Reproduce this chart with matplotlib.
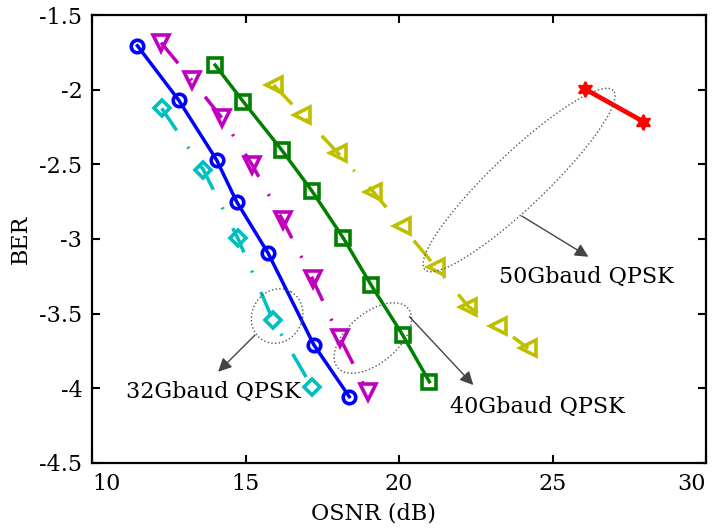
import numpy as np
import matplotlib
matplotlib.use("Agg")
import matplotlib.pyplot as plt

# ---------------- data ----------------
osnr_blue = [11.48, 12.82, 14.06, 14.71, 15.74, 17.23, 18.38]
ber_blue = [-1.706, -2.069, -2.471, -2.750, -3.096, -3.710, -4.056]

osnr_mag = [12.25, 13.25, 14.24, 15.22, 16.21, 17.19, 18.08, 18.98]
ber_mag = [-1.685, -1.935, -2.192, -2.504, -2.873, -3.270, -3.665, -4.027]

osnr_cyan = [12.27, 13.63, 14.75, 15.89, 17.16]
ber_cyan = [-2.125, -2.538, -2.995, -3.542, -3.989]

osnr_green = [14.01, 14.93, 16.18, 17.16, 18.19, 19.09, 20.12, 20.99]
ber_green = [-1.835, -2.081, -2.404, -2.677, -2.995, -3.308, -3.643, -3.956]

osnr_yel = [15.92, 16.85, 18.02, 19.16, 20.09, 21.21, 22.26, 23.23, 24.21]
ber_yel = [-1.969, -2.170, -2.426, -2.683, -2.913, -3.190, -3.453, -3.583, -3.732]

osnr_red = [26.06, 27.96]
ber_red = [-1.996, -2.214]

xticks = [10, 15, 20, 25, 30]
xticklabels = ["10", "15", "20", "25", "30"]
yticks = [-4.5, -4.0, -3.5, -3.0, -2.5, -2.0, -1.5]
yticklabels = ["-4.5", "-4", "-3.5", "-3", "-2.5", "-2", "-1.5"]

# annotations: label, text position (data), arrow start, arrow end,
# ellipse centre (data), semi-axes (px), angle (deg)
ann_labels = ["32Gbaud QPSK", "40Gbaud QPSK", "50Gbaud QPSK"]
ann_text_xy = [(13.94, -4.067), (24.51, -4.163), (26.09, -3.293)]
ann_arrow_from = [(15.31, -3.643), (20.34, -3.520), (24.00, -2.846)]
ann_arrow_to = [(14.11, -3.889), (22.42, -3.978), (26.17, -3.119)]
ell_centre = [(16.03, -3.516), (19.15, -3.663), (23.91, -2.605)]
ell_axes_px = [(28, 25), (46, 25), (130, 27)]
ell_angle = [60, 40, 43.6]

# ---------------- figure ----------------
plt.rcParams['font.family'] = ['DejaVu Serif']
FS = 16
fig = plt.figure(figsize=(7.18, 5.29), dpi=100)
ax = fig.add_axes([92 / 718, 66 / 529, 614 / 718, 448 / 529])

lw = 2.5
mew = 2.6
dd = (7.7, 5.7, 0.6, 6.1)

ax.plot(osnr_blue, ber_blue, '-', color='#0000FF', lw=lw, marker='o', ms=9,
        mew=mew, mfc='none')
l, = ax.plot(osnr_mag, ber_mag, color='#BF00BF', lw=lw, marker='v', ms=12,
             mew=mew, mfc='none', dash_capstyle='butt')
l.set_dashes(dd)
l, = ax.plot(osnr_cyan, ber_cyan, color='#00BFBF', lw=lw, marker='D', ms=8.5,
             mew=mew, mfc='none', dash_capstyle='butt')
l.set_dashes(dd)
ax.plot(osnr_green, ber_green, '-', color='#008000', lw=lw, marker='s', ms=10,
        mew=mew, mfc='none')
l, = ax.plot(osnr_yel, ber_yel, color='#BFBF00', lw=lw, marker='<', ms=12,
             mew=mew, mfc='none', dash_capstyle='butt')
l.set_dashes(dd)
ax.plot(osnr_red, ber_red, '-', color='#FF0000', lw=3.4, marker=(6, 1, 0),
        ms=11, mew=1.5, mfc='#FF0000', mec='#FF0000')

ax.set_xlim(10, 30)
ax.set_ylim(-4.5, -1.5)
ax.set_xticks(xticks)
ax.set_xticklabels(xticklabels, fontsize=FS)
ax.set_yticks(yticks)
ax.set_yticklabels(yticklabels, fontsize=FS)
xt = ax.get_xticklabels()
xt[0].set_ha('left')
xt[-1].set_ha('right')

ax.tick_params(direction='in', length=6, width=1.5, top=True, right=True)
ax.tick_params(axis='x', pad=7)
ax.tick_params(axis='y', pad=7)
for s in ax.spines.values():
    s.set_linewidth(1.6)

ax.set_xlabel("OSNR (dB)", fontsize=FS)
ax.xaxis.set_label_coords(0.459, -0.088)
ax.set_ylabel("BER", fontsize=FS)
ax.yaxis.set_label_coords(-0.098, 0.5)

# ellipses (defined in pixel semi-axes, converted to data units)
sx = ax.bbox.width / 20.0
sy = ax.bbox.height / 3.0
t = np.linspace(0, 2 * np.pi, 300)
for (cx, cy), (a, b), ang in zip(ell_centre, ell_axes_px, ell_angle):
    th = np.deg2rad(ang)
    ex = cx + (a * np.cos(th) * np.cos(t) - b * np.sin(th) * np.sin(t)) / sx
    ey = cy + (a * np.sin(th) * np.cos(t) + b * np.cos(th) * np.sin(t)) / sy
    ax.plot(ex, ey, ':', color='#555555', lw=1.0)

for lab, txy, afrom, ato in zip(ann_labels, ann_text_xy, ann_arrow_from, ann_arrow_to):
    ax.annotate("", xy=ato, xytext=afrom,
                arrowprops=dict(arrowstyle='-|>', color='#444444', lw=1.0,
                                mutation_scale=20, shrinkA=0, shrinkB=0))
    ax.text(txy[0], txy[1], lab, fontsize=FS, ha='center', va='baseline')

fig.savefig("out.png", dpi=100)
